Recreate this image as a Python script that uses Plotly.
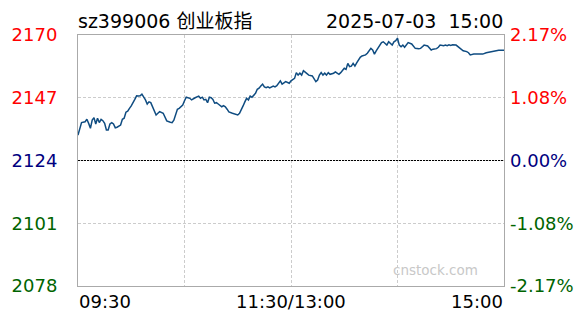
import plotly.graph_objects as go

# ---- data ----
minutes = [0, 1, 2, 4, 5, 6, 7, 8, 9, 10, 11, 12, 13, 14, 15, 16, 17, 18, 19, 20,
           21, 22, 24, 25, 26, 27, 28, 29, 30, 32, 33, 34, 35, 36, 37, 38, 39, 40,
           41, 42, 43, 44, 45, 46, 48, 49, 50, 52, 53, 54, 55, 56, 57, 59, 60,
           61, 63, 64, 66, 67, 68, 69, 70, 71, 72, 73, 74, 75, 76, 77, 78, 79,
           81, 82, 83, 84, 85, 87, 88, 90, 91, 92, 93, 94, 95, 96, 97, 98, 99,
           100, 101, 102, 103, 104, 105, 106, 107, 108, 110, 111, 112, 113, 114,
           115, 116, 117, 119, 120,
           122, 123, 124, 125, 126, 127, 128, 129, 130, 132, 133, 134, 135, 136,
           137, 138, 139, 140, 141, 142, 144, 145, 146, 147, 148, 149, 150, 151,
           152, 153, 154, 155, 156, 157, 158, 159, 160, 162, 163, 164, 165, 166,
           167, 168, 169, 170, 171, 172, 173, 174, 175, 176, 177, 178, 179, 180,
           181, 182, 183, 184, 185, 186, 188, 189, 190, 192, 193, 194, 195, 197,
           198, 199, 200, 202, 203, 204, 206, 207, 208, 209, 210, 211, 213, 214,
           216, 217, 219, 220, 221, 223, 225, 227, 228, 230, 232, 233, 235, 237, 240]
prices = [2133.3, 2135.2, 2137.9, 2138.2, 2139.1, 2137.6, 2135.8, 2138.8, 2139.7, 2137.4,
          2139.5, 2137.9, 2139.1, 2138.6, 2137.6, 2135.2, 2135.2, 2137.4, 2137.9, 2137.4,
          2136.0, 2136.2, 2137.0, 2139.1, 2139.5, 2141.7, 2142.1, 2143.1, 2144.0, 2146.4,
          2147.7, 2147.6, 2147.7, 2148.3, 2147.4, 2146.2, 2144.7, 2145.5, 2145.2, 2143.7,
          2141.9, 2140.7, 2141.3, 2141.9, 2141.3, 2139.8, 2138.5, 2138.0, 2137.9, 2138.8,
          2141.3, 2142.8, 2143.1, 2144.3, 2145.9,
          2147.2, 2146.8, 2146.2, 2147.0, 2147.2, 2147.6, 2146.8, 2147.2, 2146.2, 2146.4,
          2145.2, 2147.2, 2147.0, 2146.4, 2145.0, 2145.2, 2144.7, 2143.7, 2144.1, 2143.7,
          2142.8, 2141.8, 2141.3, 2141.0, 2140.7, 2141.3, 2142.5, 2144.0, 2145.5, 2146.8,
          2146.2, 2147.6, 2147.2, 2148.1, 2148.6, 2150.1, 2150.5, 2151.3, 2152.0, 2151.0,
          2150.7, 2151.0, 2150.6, 2151.3, 2151.0, 2151.4, 2152.3, 2153.2, 2152.0, 2152.3,
          2152.9, 2152.3, 2153.2,
          2154.1, 2156.2, 2155.3, 2156.0, 2155.3, 2156.9, 2156.4, 2156.0, 2155.3, 2155.0,
          2154.1, 2152.9, 2153.5, 2155.3, 2156.2, 2155.3, 2156.0, 2155.3, 2156.2, 2155.6,
          2156.0, 2156.5, 2156.0, 2155.6, 2156.2, 2156.9, 2157.8, 2157.4, 2159.6, 2158.4,
          2158.6, 2159.6, 2158.6, 2159.8, 2160.8, 2161.8, 2162.3, 2162.7, 2163.3, 2164.2,
          2165.1, 2164.5, 2163.0, 2164.2, 2165.1, 2166.0, 2167.2, 2167.5, 2167.0, 2166.3,
          2167.5, 2167.0, 2166.3, 2167.5, 2167.9, 2168.8, 2166.3, 2165.7, 2166.3, 2165.5,
          2166.3, 2167.2, 2166.7, 2166.0, 2165.1, 2165.0, 2165.1, 2165.7, 2166.3, 2166.0,
          2165.1, 2164.5, 2164.8, 2165.0, 2165.5, 2166.3, 2166.1, 2166.3, 2166.1, 2166.4,
          2166.2, 2166.4, 2166.3, 2165.7, 2164.8, 2164.2, 2163.9, 2163.5, 2162.7, 2163.0,
          2163.0, 2163.1, 2163.0, 2163.5, 2163.8, 2164.0, 2164.2, 2164.4, 2164.4]

prev_close = 2124.0
price_ticks = [2078, 2101, 2124, 2147, 2170]
price_labels = ["2078", "2101", "2124", "2147", "2170"]
pct_labels = ["-2.17%", "-1.08%", "0.00%", "1.08%", "2.17%"]
tick_colors = ["#006400", "#006400", "#000080", "#ff0000", "#ff0000"]
time_grid = [0, 60, 120, 180, 240]
time_label_pos = [0, 120, 240]
time_labels = ["09:30", "11:30/13:00", "15:00"]
title_left = "sz399006 创业板指"
title_right = "2025-07-03\u00a0 15:00"
watermark = "cnstock.com"

FONT = "DejaVu Sans, Noto Sans CJK SC, sans-serif"

def colored(labels):
    return [f'<span style="color:{c}">{t}</span>' for t, c in zip(labels, tick_colors)]

fig = go.Figure()
fig.add_trace(go.Scatter(x=minutes, y=prices, mode="lines",
                         line=dict(color="#0f4c81", width=1.5),
                         hoverinfo="skip", showlegend=False))
fig.add_trace(go.Scatter(x=minutes, y=prices, mode="markers", yaxis="y2",
                         marker=dict(opacity=0, size=1),
                         hoverinfo="skip", showlegend=False))

fig.add_shape(type="line", xref="paper", x0=0, x1=1, yref="y", y0=prev_close, y1=prev_close,
              line=dict(color="black", width=1, dash="2px,1px"), layer="above")

yrange = [price_ticks[0], price_ticks[-1]]
fig.update_layout(
    width=588, height=324,
    margin=dict(l=78, r=84, t=35, b=38, pad=0, autoexpand=False),
    paper_bgcolor="white", plot_bgcolor="white",
    font=dict(family=FONT, size=18, color="black"),
    xaxis=dict(range=[0, 240], tickmode="array", tickvals=time_grid, automargin=False,
               showticklabels=False, ticks="", showgrid=True, gridcolor="#cccccc",
               griddash="3px,2px", gridwidth=1, zeroline=False,
               showline=True, mirror=True, linecolor="#aaaaaa", linewidth=1),
    yaxis=dict(range=yrange, tickmode="array", tickvals=price_ticks, automargin=False,
               ticktext=colored(price_labels), ticks="", ticklabelstandoff=16,
               showgrid=True, gridcolor="#cccccc", griddash="3px,2px", gridwidth=1,
               zeroline=False, showline=True, mirror=True, linecolor="#aaaaaa",
               linewidth=1, tickfont=dict(size=18, family=FONT)),
    yaxis2=dict(range=yrange, overlaying="y", side="right", tickmode="array",
                automargin=False,
                tickvals=price_ticks, ticktext=colored(pct_labels), ticks="",
                ticklabelstandoff=5, showgrid=False, zeroline=False, showline=False,
                tickfont=dict(size=18, family=FONT)),
    showlegend=False,
)

anchors = ["left", "center", "right"]
shifts = [-1, 0, 1]
for pos, txt, anc, sh in zip(time_label_pos, time_labels, anchors, shifts):
    fig.add_annotation(x=pos, xref="x", y=-0.06, yref="paper", text=txt,
                       showarrow=False, xanchor=anc, yanchor="middle", xshift=sh,
                       font=dict(size=18, family=FONT, color="black"))

fig.add_annotation(x=0, xref="paper", y=1.056, yref="paper", text=title_left,
                   showarrow=False, xanchor="left", yanchor="middle", xshift=-2,
                   font=dict(size=19, family=FONT, color="black"))
fig.add_annotation(x=1, xref="paper", y=1.056, yref="paper", text=title_right,
                   showarrow=False, xanchor="right", yanchor="middle", xshift=1,
                   font=dict(size=19, family=FONT, color="black"))
fig.add_annotation(x=0.944, xref="paper", y=0.064, yref="paper", text=watermark,
                   showarrow=False, xanchor="right", yanchor="middle",
                   font=dict(size=13.5, family=FONT, color="#c8c8c8"))

fig.write_html("out.html")
